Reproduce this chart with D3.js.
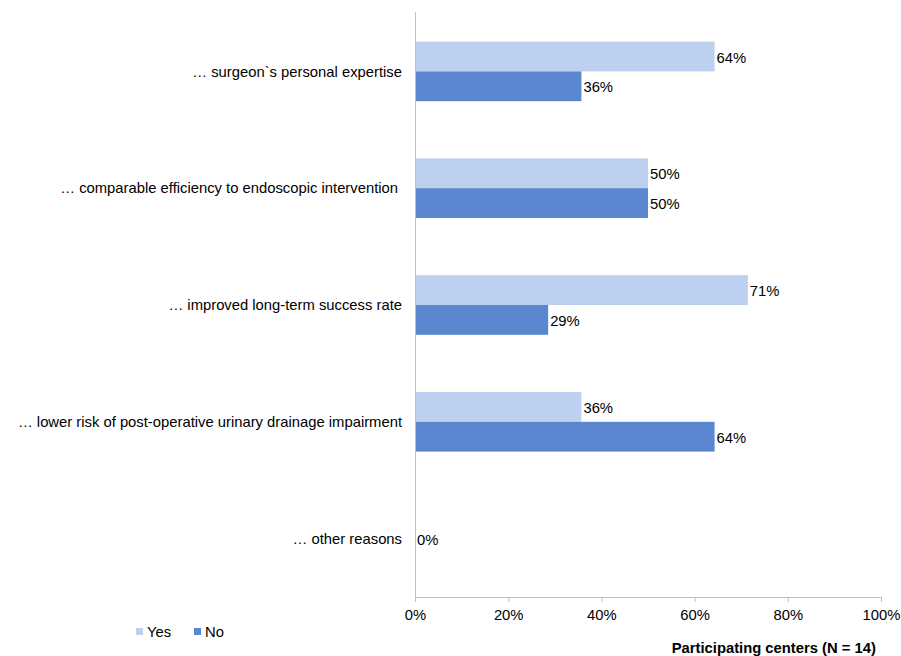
<!DOCTYPE html>
<html>
<head>
<meta charset="utf-8">
<script src="https://cdn.jsdelivr.net/npm/d3@7"></script>
<style>
  body { margin: 0; background: #fff; }
  svg { display: block; font-family: "Liberation Sans", Arial, sans-serif; }
</style>
</head>
<body>
<svg id="chart" width="901" height="656"></svg>
<script>
const categories = [
  "… surgeon`s personal expertise",
  "… comparable efficiency to endoscopic intervention",
  "… improved long-term success rate",
  "… lower risk of post-operative urinary drainage impairment",
  "… other reasons"
];
const seriesNames = ["Yes", "No"];
const yesValues = [64.29, 50, 71.43, 35.71, 0];
const noValues = [35.71, 50, 28.57, 64.29, null];
const xTicks = [0, 20, 40, 60, 80, 100];
const colors = ["#BDD0EF", "#5A87D0"];

(function() {
const svg = d3.select("#chart");
const mLeft = 415, mRight = 881, mTop = 13, mBottom = 597;
const fs = 14.8;
const pct = v => Math.round(v) + "%";

const x = d3.scaleLinear().domain([0, 100]).range([mLeft, mRight]);
const y = d3.scaleBand().domain(categories).range([mTop, mBottom]).paddingInner(0.49).paddingOuter(0.245);
const ySub = d3.scaleBand().domain(seriesNames).range([0, y.bandwidth()]);

const data = categories.map((c, i) => ({ cat: c, vals: [yesValues[i], noValues[i]] }));

// vertical axis line
svg.append("line").attr("x1", mLeft + 0.5).attr("x2", mLeft + 0.5).attr("y1", 12).attr("y2", mBottom)
  .attr("stroke", "#bfbfbf").attr("stroke-width", 1);

const xAxis = d3.axisBottom(x).tickValues(xTicks).tickFormat(pct).tickSizeOuter(0).tickSize(5).tickPadding(7);
const gx = svg.append("g").attr("transform", `translate(0,${mBottom})`).call(xAxis);
gx.select(".domain").attr("stroke", "#bfbfbf");
gx.selectAll(".tick line").attr("stroke", "#bfbfbf");
gx.selectAll(".tick text").attr("font-size", fs).attr("fill", "#000").attr("font-family", "Liberation Sans, Arial, sans-serif");

// category labels
svg.append("g").selectAll("text").data(categories).join("text")
  .attr("x", (d, i) => i === 1 ? 398 : 402).attr("y", d => y(d) + y.bandwidth() / 2)
  .attr("dy", "0.35em").attr("text-anchor", "end").attr("font-size", fs).attr("fill", "#000")
  .text(d => d);

// bars
const groups = svg.append("g").selectAll("g").data(data).join("g")
  .attr("transform", d => `translate(0,${y(d.cat)})`);

groups.each(function(d) {
  const g = d3.select(this);
  const present = d.vals.map((v, i) => ({ v, i })).filter(e => e.v !== null);
  present.forEach(e => {
    const s = seriesNames[e.i];
    const y0 = present.length === 1 ? (y.bandwidth() - ySub.bandwidth()) / 2 : ySub(s);
    if (e.v > 0) {
      g.append("rect")
        .attr("x", x(0) + 1).attr("y", y0)
        .attr("width", x(e.v) - x(0) - 1).attr("height", ySub.bandwidth())
        .attr("fill", colors[e.i]);
    }
    g.append("text")
      .attr("x", x(e.v) + 2).attr("y", y0 + ySub.bandwidth() / 2 + 1)
      .attr("dy", "0.35em").attr("font-size", fs).attr("fill", "#000")
      .text(pct(e.v));
  });
});

// legend
const legend = svg.append("g").attr("transform", "translate(136,632)");
seriesNames.forEach((s, i) => {
  const lg = legend.append("g").attr("transform", `translate(${i * 58},0)`);
  lg.append("rect").attr("x", 0).attr("y", -4).attr("width", 7).attr("height", 7).attr("fill", colors[i]);
  lg.append("text").attr("x", 11).attr("y", 0).attr("dy", "0.35em").attr("font-size", fs).attr("fill", "#000").text(s);
});

// axis title
svg.append("text").attr("x", 876).attr("y", 653).attr("text-anchor", "end")
  .attr("font-size", fs).attr("font-weight", "bold").attr("fill", "#000")
  .text("Participating centers (N = 14)");
})();
</script>
</body>
</html>
